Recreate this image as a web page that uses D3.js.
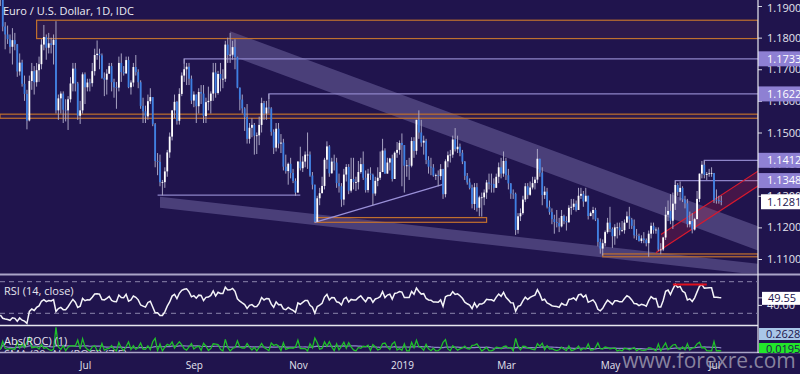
<!DOCTYPE html>
<html>
<head>
<meta charset="utf-8">
<script src="https://cdn.jsdelivr.net/npm/d3@7/dist/d3.min.js"></script>
<style>
  body { margin: 0; background: #20144d; }
  svg { display: block; }
  text { font-family: "Open Sans", sans-serif; }
</style>
</head>
<body>
<div id="chart"></div>
<script>
// daily EUR/USD candles, one row per week, first candle Mon 14 May 2018
const startDate = "2018-05-14";
const firstOpen = 1.1940;
const closes = [
  1.1926,1.1835,1.1810,1.1795,1.1771, 1.1792,1.1779,1.1693,1.1721,1.1654,
  1.1622,1.1538,1.1663,1.1694,1.1659, 1.1697,1.1716,1.1778,1.1802,1.1768,
  1.1782,1.1777,1.1793,1.1570,1.1608, 1.1623,1.1572,1.1570,1.1605,1.1655,
  1.1702,1.1655,1.1553,1.1570,1.1684, 1.1643,1.1658,1.1656,1.1694,1.1745,
  1.1749,1.1744,1.1673,1.1667,1.1686, 1.1710,1.1659,1.1643,1.1642,1.1720,
  1.1691,1.1687,1.1729,1.1643,1.1658, 1.1707,1.1691,1.1659,1.1584,1.1567,
  1.1551,1.1599,1.1612,1.1526,1.1410, 1.1407,1.1343,1.1343,1.1377,1.1437,
  1.1487,1.1570,1.1597,1.1537,1.1622, 1.1680,1.1700,1.1708,1.1670,1.1601,
  1.1620,1.1583,1.1628,1.1623,1.1552, 1.1596,1.1600,1.1623,1.1690,1.1625,
  1.1685,1.1670,1.1670,1.1778,1.1745, 1.1746,1.1770,1.1738,1.1642,1.1604,
  1.1576,1.1549,1.1480,1.1515,1.1524, 1.1490,1.1491,1.1524,1.1593,1.1560,
  1.1579,1.1576,1.1502,1.1452,1.1512, 1.1465,1.1468,1.1392,1.1378,1.1401,
  1.1372,1.1347,1.1310,1.1408,1.1387, 1.1408,1.1430,1.1430,1.1364,1.1335,
  1.1218,1.1292,1.1308,1.1331,1.1414, 1.1456,1.1371,1.1408,1.1405,1.1340,
  1.1330,1.1288,1.1367,1.1391,1.1316, 1.1353,1.1343,1.1343,1.1375,1.1400,
  1.1357,1.1318,1.1370,1.1366,1.1307, 1.1347,1.1357,1.1375,1.1443,1.1370,
  1.1405,1.1418,1.1353,1.1436,1.1445, 1.1467,1.1460,1.1395,1.1396,1.1395,
  1.1473,1.1442,1.1540,1.1500,1.1468, 1.1474,1.1413,1.1392,1.1389,1.1364,
  1.1365,1.1362,1.1384,1.1305,1.1409, 1.1428,1.1430,1.1478,1.1447,1.1455,
  1.1436,1.1408,1.1363,1.1342,1.1325, 1.1274,1.1327,1.1262,1.1295,1.1295,
  1.1310,1.1342,1.1338,1.1337,1.1325, 1.1360,1.1390,1.1370,1.1410,1.1365,
  1.1339,1.1307,1.1306,1.1192,1.1235, 1.1245,1.1288,1.1330,1.1303,1.1326,
  1.1340,1.1351,1.1417,1.1373,1.1302, 1.1313,1.1265,1.1248,1.1226,1.1217,
  1.1214,1.1203,1.1236,1.1220,1.1216, 1.1262,1.1265,1.1275,1.1255,1.1300,
  1.1306,1.1282,1.1300,1.1236,1.1245, 1.1255,1.1225,1.1154,1.1133,1.1150,
  1.1185,1.1215,1.1195,1.1172,1.1200, 1.1200,1.1191,1.1191,1.1215,1.1235,
  1.1225,1.1205,1.1175,1.1173,1.1157, 1.1165,1.1160,1.1150,1.1180,1.1205,
  1.1192,1.1193,1.1130,1.1130,1.1168, 1.1240,1.1252,1.1221,1.1275,1.1334,
  1.1312,1.1325,1.1288,1.1276,1.1210, 1.1220,1.1193,1.1226,1.1290,1.1370,
  1.1398,1.1366,1.1369,1.1371,1.1372, 1.1287,1.1286,1.1283,1.1281
];
const highs = [
  1.1997,1.1929,1.1849,1.1838,1.1810, 1.1830,1.1815,1.1780,1.1750,1.1730,
  1.1680,1.1635,1.1680,1.1720,1.1710, 1.1720,1.1740,1.1795,1.1840,1.1810,
  1.1815,1.1800,1.1810,1.1852,1.1620, 1.1630,1.1630,1.1605,1.1615,1.1675,
  1.1720,1.1720,1.1660,1.1600,1.1690, 1.1690,1.1670,1.1670,1.1720,1.1765,
  1.1791,1.1765,1.1750,1.1690,1.1700, 1.1720,1.1720,1.1670,1.1660,1.1740,
  1.1750,1.1710,1.1740,1.1740,1.1665, 1.1720,1.1745,1.1700,1.1665,1.1610,
  1.1585,1.1620,1.1640,1.1610,1.1530, 1.1435,1.1430,1.1350,1.1390,1.1445,
  1.1500,1.1570,1.1620,1.1600,1.1640, 1.1690,1.1733,1.1720,1.1720,1.1680,
  1.1630,1.1620,1.1640,1.1650,1.1650, 1.1610,1.1645,1.1630,1.1720,1.1720,
  1.1695,1.1720,1.1700,1.1790,1.1800, 1.1815,1.1790,1.1795,1.1740,1.1640,
  1.1620,1.1580,1.1590,1.1530,1.1545, 1.1530,1.1500,1.1550,1.1610,1.1600,
  1.1600,1.1622,1.1580,1.1510,1.1530, 1.1530,1.1495,1.1480,1.1430,1.1405,
  1.1420,1.1385,1.1355,1.1410,1.1455, 1.1425,1.1440,1.1500,1.1440,1.1375,
  1.1330,1.1300,1.1325,1.1360,1.1420, 1.1472,1.1460,1.1420,1.1430,1.1420,
  1.1370,1.1340,1.1385,1.1400,1.1400, 1.1420,1.1420,1.1360,1.1410,1.1420,
  1.1440,1.1380,1.1385,1.1390,1.1370, 1.1360,1.1390,1.1440,1.1480,1.1450,
  1.1420,1.1420,1.1430,1.1440,1.1470, 1.1475,1.1497,1.1410,1.1413,1.1420,
  1.1485,1.1485,1.1540,1.1570,1.1540, 1.1490,1.1480,1.1425,1.1420,1.1400,
  1.1370,1.1380,1.1400,1.1385,1.1415, 1.1440,1.1445,1.1490,1.1514,1.1490,
  1.1465,1.1445,1.1410,1.1372,1.1355, 1.1335,1.1340,1.1340,1.1300,1.1310,
  1.1320,1.1350,1.1370,1.1370,1.1355, 1.1370,1.1405,1.1420,1.1440,1.1420,
  1.1385,1.1340,1.1320,1.1310,1.1245, 1.1260,1.1300,1.1340,1.1340,1.1345,
  1.1360,1.1360,1.1448,1.1410,1.1390, 1.1330,1.1325,1.1285,1.1260,1.1240,
  1.1255,1.1230,1.1255,1.1240,1.1235, 1.1270,1.1290,1.1290,1.1285,1.1325,
  1.1325,1.1315,1.1325,1.1300,1.1250, 1.1265,1.1262,1.1230,1.1165,1.1162,
  1.1190,1.1230,1.1265,1.1200,1.1210, 1.1215,1.1215,1.1220,1.1225,1.1250,
  1.1265,1.1230,1.1225,1.1195,1.1180, 1.1175,1.1185,1.1165,1.1190,1.1215,
  1.1215,1.1200,1.1200,1.1150,1.1170, 1.1265,1.1285,1.1305,1.1310,1.1348,
  1.1340,1.1345,1.1330,1.1300,1.1290, 1.1250,1.1245,1.1230,1.1315,1.1370,
  1.1410,1.1412,1.1375,1.1385,1.1390, 1.1350,1.1320,1.1300,1.1300
];
const lows = [
  1.1900,1.1820,1.1763,1.1780,1.1750, 1.1715,1.1760,1.1676,1.1680,1.1645,
  1.1600,1.1510,1.1535,1.1635,1.1620, 1.1645,1.1660,1.1700,1.1760,1.1730,
  1.1750,1.1750,1.1715,1.1560,1.1540, 1.1560,1.1530,1.1535,1.1508,1.1595,
  1.1630,1.1630,1.1540,1.1527,1.1560, 1.1590,1.1630,1.1630,1.1645,1.1680,
  1.1730,1.1700,1.1670,1.1615,1.1620, 1.1685,1.1630,1.1610,1.1575,1.1630,
  1.1660,1.1680,1.1685,1.1640,1.1620, 1.1645,1.1680,1.1640,1.1575,1.1530,
  1.1530,1.1540,1.1590,1.1520,1.1390, 1.1365,1.1330,1.1301,1.1325,1.1360,
  1.1420,1.1475,1.1545,1.1525,1.1525, 1.1615,1.1660,1.1650,1.1650,1.1590,
  1.1580,1.1530,1.1560,1.1590,1.1530, 1.1530,1.1570,1.1560,1.1600,1.1610,
  1.1620,1.1630,1.1640,1.1660,1.1720, 1.1720,1.1730,1.1700,1.1640,1.1570,
  1.1560,1.1505,1.1465,1.1465,1.1485, 1.1430,1.1432,1.1460,1.1500,1.1540,
  1.1540,1.1560,1.1490,1.1432,1.1440, 1.1450,1.1435,1.1380,1.1370,1.1335,
  1.1355,1.1340,1.1300,1.1310,1.1380, 1.1375,1.1390,1.1385,1.1360,1.1320,
  1.1216,1.1220,1.1270,1.1310,1.1320, 1.1385,1.1360,1.1370,1.1380,1.1325,
  1.1310,1.1265,1.1270,1.1345,1.1305, 1.1310,1.1320,1.1315,1.1320,1.1370,
  1.1350,1.1310,1.1310,1.1350,1.1270, 1.1300,1.1330,1.1350,1.1390,1.1370,
  1.1370,1.1380,1.1345,1.1360,1.1420, 1.1430,1.1330,1.1310,1.1360,1.1350,
  1.1390,1.1420,1.1430,1.1480,1.1455, 1.1430,1.1400,1.1370,1.1365,1.1360,
  1.1350,1.1330,1.1350,1.1290,1.1295, 1.1390,1.1405,1.1420,1.1440,1.1435,
  1.1425,1.1400,1.1350,1.1335,1.1320, 1.1260,1.1255,1.1250,1.1235,1.1234,
  1.1270,1.1290,1.1320,1.1310,1.1310, 1.1330,1.1340,1.1355,1.1360,1.1350,
  1.1320,1.1290,1.1290,1.1176,1.1180, 1.1220,1.1240,1.1280,1.1290,1.1300,
  1.1320,1.1320,1.1340,1.1360,1.1270, 1.1290,1.1260,1.1240,1.1210,1.1180,
  1.1200,1.1185,1.1200,1.1210,1.1190, 1.1215,1.1240,1.1255,1.1250,1.1255,
  1.1290,1.1265,1.1280,1.1225,1.1235, 1.1225,1.1220,1.1140,1.1117,1.1111,
  1.1140,1.1180,1.1185,1.1135,1.1145, 1.1165,1.1175,1.1185,1.1180,1.1215,
  1.1195,1.1195,1.1165,1.1160,1.1155, 1.1150,1.1150,1.1140,1.1107,1.1165,
  1.1180,1.1180,1.1125,1.1115,1.1125, 1.1160,1.1220,1.1210,1.1195,1.1255,
  1.1300,1.1285,1.1280,1.1260,1.1200, 1.1200,1.1181,1.1190,1.1240,1.1280,
  1.1355,1.1355,1.1350,1.1360,1.1360, 1.1277,1.1275,1.1275,1.1270
];

// RSI state carried in from before the first candle
const rsiSeed = {avgGain: 0.0012, avgLoss: 0.0030};

// axis labels
const priceTicks = [1.11, 1.12, 1.13, 1.14, 1.15, 1.16, 1.17, 1.18, 1.19];
const dateTickDates = ["2018-07-02", "2018-09-03", "2018-11-01", "2019-01-01", "2019-03-01", "2019-05-01", "2019-07-01"];
const dateTickLabels = ["Jul", "Sep", "Nov", "2019", "Mar", "May", "Jul"];
const rsiTickLabels = ["40.00"];
const rsiLastLabel = "49.55";
const rocLabels = ["0.2628", "0.0195"];

// annotations drawn on the price chart
const levelLines = [
  {price: 1.1733, from: "2018-08-28"},
  {price: 1.1622, from: "2018-10-16"},
  {price: 1.1412, from: "2019-06-25"},
  {price: 1.1348, from: "2019-06-07"}
];
const supportZones = [
  {top: 1.1855, bottom: 1.1797, from: "2018-06-04", to: null},
  {top: 1.1558, bottom: 1.1545, from: null, to: null},
  {top: 1.1231, bottom: 1.1216, from: "2018-11-12", to: "2019-02-19"},
  {top: 1.1116, bottom: 1.1107, from: "2019-04-26", to: null}
];
const augLow = {price: 1.1302, from: "2018-08-13", to: "2018-11-02"};
const risingLine = [{date: "2018-11-12", price: 1.1216}, {date: "2019-01-24", price: 1.1336}];
const upperBand = {start: {date: "2018-09-24", price: 1.1820}, end: {date: "2019-08-05", price: 1.1184}, width: 0.0076};
const lowerBand = {start: {date: "2018-08-14", price: 1.1297}, end: {date: "2019-08-05", price: 1.1079}, width: 0.0035};
const redChannel = {lower: [{date: "2019-05-28", price: 1.1120}, {date: "2019-07-30", price: 1.1345}], offset: 0.0047};
const rsiDivergence = {from: "2019-06-06", to: "2019-06-26", value: 66.5};

const W = 800, H = 374, plotRight = 758;
const bg = "#20144d";

// trading day dates (weekdays)
const dates = [];
let d = new Date(startDate + "T00:00:00Z");
while (dates.length < closes.length) {
  const wd = d.getUTCDay();
  if (wd !== 0 && wd !== 6) dates.push(new Date(d));
  d = new Date(d.getTime() + 86400000);
}
const fmt = d3.utcFormat("%Y-%m-%d");
// index of a date; dates past the last candle count on in weekdays
const indexOfDate = s => {
  const k = dates.findIndex(v => fmt(v) >= s);
  if (k >= 0) return k;
  let n = dates.length - 1, t = new Date(dates[n]);
  while (fmt(t) < s) {
    t = new Date(t.getTime() + 86400000);
    if (t.getUTCDay() !== 0 && t.getUTCDay() !== 6) n++;
  }
  return n;
};

const candles = closes.map((c, i) => {
  const o = i === 0 ? firstOpen : closes[i - 1];
  return {i, o, c, h: Math.max(highs[i], o, c), l: Math.min(lows[i], o, c)};
});

// RSI(14), Wilder smoothing
const rsi = [];
let ag = rsiSeed.avgGain, al = rsiSeed.avgLoss;
candles.forEach((k, i) => {
  const ch = k.c - k.o;
  ag = (ag * 13 + Math.max(ch, 0)) / 14;
  al = (al * 13 + Math.max(-ch, 0)) / 14;
  rsi.push({i, v: al === 0 ? 100 : 100 - 100 / (1 + ag / al)});
});

// Abs(ROC(1)) and its SMA(20)
const roc = candles.map(k => ({i: k.i, v: Math.abs(k.c / k.o - 1) * 100}));
const rocSma = roc.map((r, i) => {
  const s = roc.slice(Math.max(0, i - 19), i + 1);
  return {i, v: d3.mean(s, q => q.v)};
});

// scales
const iJul = indexOfDate(dateTickDates[0]);
const iJul19 = indexOfDate(dateTickDates[6]);
const x = d3.scaleLinear().domain([iJul, iJul19]).range([85, 714]);
const y = d3.scaleLinear().domain([1.11, 1.19]).range([259, 6]);
const yRsi = d3.scaleLinear().domain([30, 70]).range([313.3, 281.7]);
const yRoc = d3.scaleLinear().domain([0, 2]).range([351, 326]);

const svg = d3.select("#chart").append("svg")
  .attr("width", W).attr("height", H);

svg.append("rect").attr("width", W).attr("height", H).attr("fill", bg);

const defs = svg.append("defs");
defs.append("clipPath").attr("id", "clipMain")
  .append("rect").attr("x", 0).attr("y", 0).attr("width", plotRight).attr("height", 273);
defs.append("clipPath").attr("id", "clipRsi")
  .append("rect").attr("x", 0).attr("y", 276).attr("width", plotRight).attr("height", 49);
defs.append("clipPath").attr("id", "clipRoc")
  .append("rect").attr("x", 0).attr("y", 326).attr("width", plotRight).attr("height", 26);

const main = svg.append("g").attr("clip-path", "url(#clipMain)");

// translucent bands
function bandPath(b) {
  const x0 = x(indexOfDate(b.start.date)), x1 = x(indexOfDate(b.end.date));
  return d3.line()([
    [x0, y(b.start.price)], [x1, y(b.end.price)],
    [x1, y(b.end.price - b.width)], [x0, y(b.start.price - b.width)]
  ]) + "Z";
}
[upperBand, lowerBand].forEach(b => {
  main.append("path").attr("d", bandPath(b))
    .attr("fill", "rgba(200,190,255,0.25)");
});

// orange zones
supportZones.forEach(z => {
  const x0 = z.from ? x(indexOfDate(z.from)) : 0;
  const x1 = z.to ? x(indexOfDate(z.to)) : plotRight;
  main.append("rect")
    .attr("x", x0).attr("y", y(z.top))
    .attr("width", x1 - x0).attr("height", y(z.bottom) - y(z.top))
    .attr("fill", "rgba(120,60,70,0.17)")
    .attr("stroke", "#c0702e").attr("stroke-width", 1.2);
});

// Aug low line
main.append("line")
  .attr("x1", x(indexOfDate(augLow.from))).attr("x2", x(indexOfDate(augLow.to)))
  .attr("y1", y(augLow.price)).attr("y2", y(augLow.price))
  .attr("stroke", "#8d84c8").attr("stroke-width", 1.2);

// rising trendline
main.append("line")
  .attr("x1", x(indexOfDate(risingLine[0].date))).attr("y1", y(risingLine[0].price))
  .attr("x2", x(indexOfDate(risingLine[1].date))).attr("y2", y(risingLine[1].price))
  .attr("stroke", "#9a90d8").attr("stroke-width", 1.2);

// horizontal levels
levelLines.forEach(l => {
  const x0 = x(indexOfDate(l.from));
  main.append("path")
    .attr("d", `M${x0},${y(l.price) + 5}V${y(l.price)}H${plotRight}`)
    .attr("fill", "none").attr("stroke", "#8d84c8").attr("stroke-width", 1.2);
});

// red channel
const rc = redChannel.lower;
const cx0 = x(indexOfDate(rc[0].date)), cx1 = x(indexOfDate(rc[1].date));
const slope = (y(rc[1].price) - y(rc[0].price)) / (cx1 - cx0);
const up0 = [cx0 + 5, y(rc[0].price + redChannel.offset) + 5 * slope];
const up1 = [cx1, y(rc[1].price + redChannel.offset)];
main.append("path")
  .attr("d", d3.line()([[cx0, y(rc[0].price)], [cx1, y(rc[1].price)], up1, up0]) + "Z")
  .attr("fill", "rgba(200,30,60,0.22)");
main.append("line").attr("x1", cx0).attr("y1", y(rc[0].price)).attr("x2", cx1).attr("y2", y(rc[1].price))
  .attr("stroke", "#d8192e").attr("stroke-width", 1.2);
main.append("line").attr("x1", up0[0]).attr("y1", up0[1]).attr("x2", up1[0]).attr("y2", up1[1])
  .attr("stroke", "#d8192e").attr("stroke-width", 1.2);

// candles
const cg = main.append("g");
cg.selectAll(".wick").data(candles).join("line")
  .attr("class", "wick")
  .attr("x1", k => x(k.i)).attr("x2", k => x(k.i))
  .attr("y1", k => y(k.h)).attr("y2", k => y(k.l))
  .attr("stroke", "#a7a3c2").attr("stroke-width", 1);
cg.selectAll(".body").data(candles).join("rect")
  .attr("class", "body")
  .attr("x", k => x(k.i) - 0.9).attr("width", 1.8)
  .attr("y", k => y(Math.max(k.o, k.c)))
  .attr("height", k => Math.max(0.8, Math.abs(y(k.o) - y(k.c))))
  .attr("fill", k => k.c >= k.o ? "#ffffff" : "#3d7fe3");

// title
svg.append("text").attr("x", 3).attr("y", 15)
  .attr("font-size", 11).attr("fill", "#ececf4")
  .text("Euro / U.S. Dollar, 1D, IDC");

// price axis
const yAxis = svg.append("g").attr("transform", `translate(${plotRight},0)`)
  .call(d3.axisRight(y).tickValues(priceTicks).tickFormat(d3.format(".4f")).tickSize(4).tickPadding(5));
yAxis.select(".domain").remove();
yAxis.selectAll("line").attr("stroke", "#d8d8e4");
yAxis.selectAll("text").attr("fill", "#e4e4ee").attr("font-size", 11).attr("font-family", "Open Sans, sans-serif");
yAxis.selectAll(".tick").filter(v => v === 1.19).select("text").attr("dy", "0.5em");

// price label boxes
function valueBox(yy, label, fill, color, x0) {
  svg.append("rect").attr("x", x0).attr("y", yy - 7.5).attr("width", W - x0).attr("height", 15).attr("fill", fill);
  svg.append("text").attr("x", 767).attr("y", yy).attr("dy", "0.35em")
    .attr("font-size", 11).attr("fill", color).text(label);
}
levelLines.forEach(l => valueBox(y(l.price), d3.format(".4f")(l.price), "#8e80d3", "#ffffff", plotRight));
valueBox(y(closes[closes.length - 1]), d3.format(".4f")(closes[closes.length - 1]), "#ffffff", "#20144d", 761);

// panel separators
svg.append("line").attr("x1", 0).attr("x2", W).attr("y1", 274.5).attr("y2", 274.5)
  .attr("stroke", "#aaa4c8").attr("stroke-width", 2);
svg.append("line").attr("x1", 0).attr("x2", plotRight).attr("y1", 325.5).attr("y2", 325.5)
  .attr("stroke", "#e8e8f0").attr("stroke-width", 1.3);
svg.append("line").attr("x1", 0).attr("x2", W).attr("y1", 352.5).attr("y2", 352.5)
  .attr("stroke", "#aaa4c8").attr("stroke-width", 1.5);
svg.append("line").attr("x1", plotRight).attr("x2", plotRight).attr("y1", 0).attr("y2", 353)
  .attr("stroke", "#e8e8f0").attr("stroke-width", 1.2);

// RSI panel
const rsiG = svg.append("g").attr("clip-path", "url(#clipRsi)");
[70, 30].forEach(v => {
  rsiG.append("line").attr("x1", 0).attr("x2", plotRight).attr("y1", yRsi(v)).attr("y2", yRsi(v))
    .attr("stroke", "#8a84ac").attr("stroke-width", 1).attr("stroke-dasharray", "5,4");
});
rsiG.append("path").datum(rsi)
  .attr("d", d3.line().x(p => x(p.i)).y(p => yRsi(p.v)))
  .attr("fill", "none").attr("stroke", "#f4f4f8").attr("stroke-width", 1.5);
rsiG.append("line")
  .attr("x1", x(indexOfDate(rsiDivergence.from))).attr("x2", x(indexOfDate(rsiDivergence.to)))
  .attr("y1", yRsi(rsiDivergence.value)).attr("y2", yRsi(rsiDivergence.value))
  .attr("stroke", "#e0101e").attr("stroke-width", 2);
svg.append("text").attr("x", 4).attr("y", 295).attr("font-size", 11).attr("fill", "#e4e4ee")
  .text("RSI (14, close)");
rsiTickLabels.forEach(t => {
  const yy = yRsi(+t);
  svg.append("line").attr("x1", plotRight).attr("x2", plotRight + 4).attr("y1", yy).attr("y2", yy).attr("stroke", "#d8d8e4");
  svg.append("text").attr("x", 767).attr("y", yy).attr("dy", "0.35em").attr("font-size", 11).attr("fill", "#e4e4ee").text(t);
});
svg.append("line").attr("x1", plotRight).attr("x2", plotRight + 4).attr("y1", yRsi(+rsiLastLabel)).attr("y2", yRsi(+rsiLastLabel)).attr("stroke", "#d8d8e4");
svg.append("rect").attr("x", 762).attr("y", yRsi(+rsiLastLabel) - 6).attr("width", 38).attr("height", 13).attr("fill", "#ffffff");
svg.append("text").attr("x", 768).attr("y", yRsi(+rsiLastLabel)).attr("dy", "0.35em").attr("font-size", 11).attr("fill", "#20144d").text(rsiLastLabel);

// ROC panel
const rocG = svg.append("g").attr("clip-path", "url(#clipRoc)");
rocG.append("path").datum(rocSma)
  .attr("d", d3.line().x(p => x(p.i)).y(p => yRoc(p.v)))
  .attr("fill", "none").attr("stroke", "#8f86c8").attr("stroke-width", 1.2);
rocG.append("path").datum(roc)
  .attr("d", d3.line().x(p => x(p.i)).y(p => yRoc(p.v)))
  .attr("fill", "none").attr("stroke", "#1fbf2a").attr("stroke-width", 1.3);
svg.append("text").attr("x", 4).attr("y", 345).attr("font-size", 11).attr("fill", "#e4e4ee")
  .text("Abs(ROC) (1)");
rocG.append("text").attr("x", 4).attr("y", 358).attr("font-size", 11).attr("fill", "#cfcfe0")
  .text("SMA (20, Abs(ROC)) (7.5)");
svg.append("rect").attr("x", 759).attr("y", 328).attr("width", 41).attr("height", 12).attr("fill", "#a9c6e8");
svg.append("text").attr("x", 766).attr("y", 334).attr("dy", "0.35em").attr("font-size", 11).attr("fill", "#20144d").text(rocLabels[0]);
svg.append("rect").attr("x", 759).attr("y", 343).attr("width", 41).attr("height", 10).attr("fill", "#22e62a");
svg.append("text").attr("x", 766).attr("y", 349).attr("dy", "0.35em").attr("font-size", 11).attr("fill", "#20144d").text(rocLabels[1]);

// date axis
const xAxis = svg.append("g").attr("transform", "translate(0,359)")
  .call(d3.axisBottom(x).tickValues(dateTickDates.map(indexOfDate))
    .tickFormat((v, i) => dateTickLabels[i]).tickSize(0).tickPadding(3));
xAxis.select(".domain").remove();
xAxis.selectAll("text").attr("fill", "#e4e4ee").attr("font-size", 10).attr("font-family", "Open Sans, sans-serif");

// watermark
svg.append("text").attr("x", 709).attr("y", 368).attr("text-anchor", "middle")
  .attr("font-size", 21).attr("fill", "#b4b2c2").attr("opacity", 0.7)
  .text("www.forexre.com");
</script>
</body>
</html>
